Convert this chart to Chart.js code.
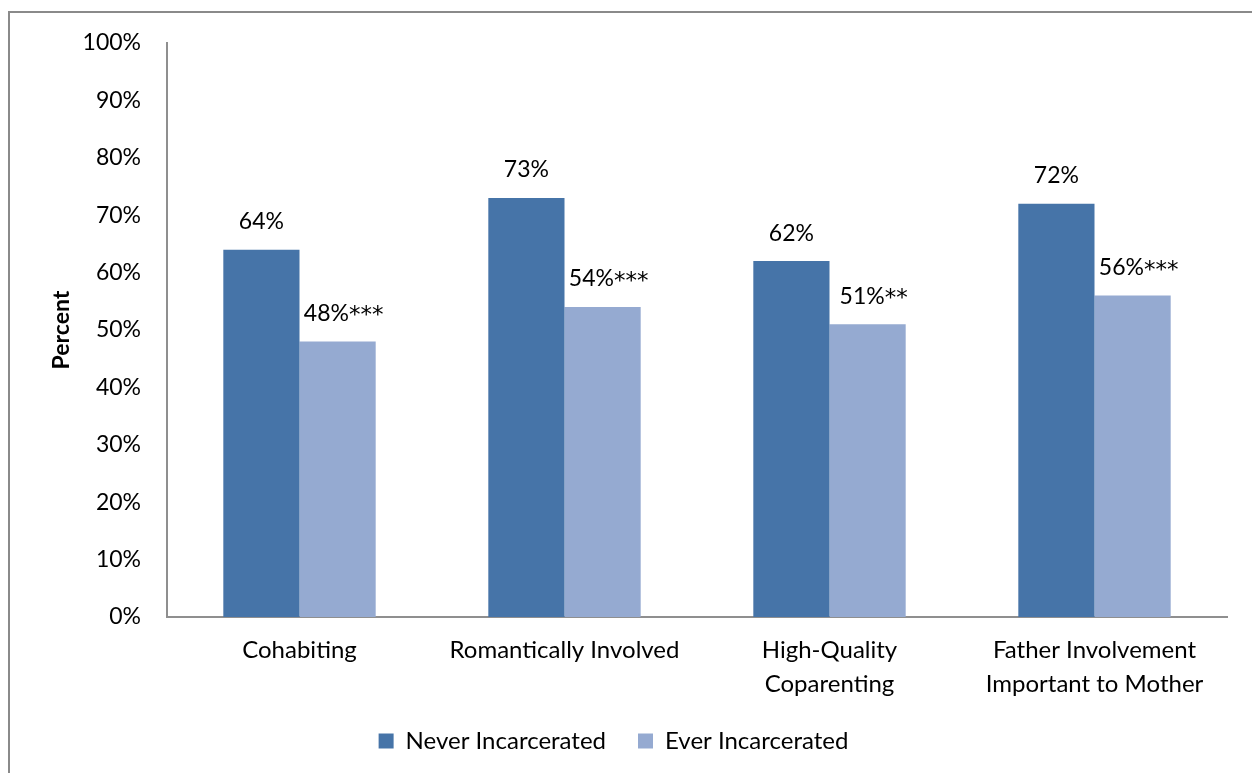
<!DOCTYPE html>
<html>
<head>
<meta charset="utf-8">
<script src="https://cdn.jsdelivr.net/npm/chart.js@4/dist/chart.umd.min.js"></script>
<style>
  body { margin: 0; background: #fff; }
  #wrap { width: 1252px; height: 773px; }
</style>
</head>
<body>
<div id="wrap"><canvas id="incarceration"></canvas></div>
<script>
var DARK_BLUE = "#4674A8";
var LIGHT_BLUE = "#95AAD1";
var AXIS_GREY = "#8f8f8f";
var FONT = "Lato, 'Open Sans', sans-serif";

let CATEGORIES = [
  "Cohabiting",
  "Romantically Involved",
  ["High-Quality", "Coparenting"],
  ["Father Involvement", "Important to Mother"]
];
let NEVER = [64, 73, 62, 72];
let EVER = [48, 54, 51, 56];
let NEVER_SIG = ["", "", "", ""];
let EVER_SIG = ["***", "***", "**", "***"];
let Y_TICKS = [0, 10, 20, 30, 40, 50, 60, 70, 80, 90, 100];

var chartData = {
  labels: CATEGORIES,
  datasets: [{
    label: "Never Incarcerated",
    data: NEVER,
    sig: NEVER_SIG,
    backgroundColor: DARK_BLUE
  }, {
    label: "Ever Incarcerated",
    data: EVER,
    sig: EVER_SIG,
    backgroundColor: LIGHT_BLUE
  }]
};

// frame round the whole chart, like the original picture
var framePlugin = {
  id: "frame",
  beforeDraw: function(chart) {
    var c = chart.ctx;
    c.save();
    c.fillStyle = "#fff";
    c.fillRect(0, 0, chart.width, chart.height);
    c.strokeStyle = "#8a8a8a";
    c.lineWidth = 2;
    c.strokeRect(9, 12, 1300, 800);
    c.restore();
  }
};

// value labels above each bar, stars drawn a bit larger like the original
var valueLabels = {
  id: "valueLabels",
  afterDatasetsDraw: function(chart) {
    var c = chart.ctx;
    c.save();
    c.fillStyle = "#000";
    c.textBaseline = "middle";
    chart.data.datasets.forEach(function(ds, i) {
      chart.getDatasetMeta(i).data.forEach(function(bar, j) {
        var num = ds.data[j] + "%";
        var stars = ds.sig[j];
        c.font = "23px " + FONT;
        var w1 = c.measureText(num).width;
        c.font = "23px 'DejaVu Sans'";
        var w2 = stars ? c.measureText(stars).width : 0;
        var x0 = bar.x - (w1 + w2) / 2 + (stars ? 6 : 0);
        var y = bar.y - 28;
        c.textAlign = "left";
        c.font = "23px " + FONT;
        c.fillText(num, x0, y);
        if (stars) {
          c.font = "23px 'DejaVu Sans'";
          c.fillText(stars, x0 + w1, y + 3);
        }
      });
    });
    c.restore();
  }
};

var ctx = document.getElementById("incarceration").getContext("2d");
var barChart = new Chart(ctx, {
  type: "bar",
  data: chartData,
  plugins: [framePlugin, valueLabels],
  options: {
    responsive: true,
    maintainAspectRatio: false,
    animation: false,
    layout: { padding: { top: 43, right: 25, left: 0, bottom: 10 } },
    datasets: {
      bar: { categoryPercentage: 0.575, barPercentage: 1.0 }
    },
    scales: {
      x: {
        grid: { display: false, drawTicks: false },
        border: { color: AXIS_GREY, width: 2 },
        ticks: {
          color: "#000",
          padding: 16,
          maxRotation: 0,
          autoSkip: false,
          font: { family: FONT, size: 24, lineHeight: 1.42 }
        },
        afterFit: function(scale) { scale.height = 80; }
      },
      y: {
        min: 0,
        max: 100,
        afterBuildTicks: function(scale) {
          scale.ticks = Y_TICKS.map(function(v) { return { value: v }; });
        },
        grid: { display: false, drawTicks: false },
        border: { color: AXIS_GREY, width: 2 },
        ticks: {
          color: "#000",
          padding: 26,
          font: { family: FONT, size: 23 },
          callback: function(v) { return v + "%"; }
        },
        title: {
          display: true,
          text: "Percent",
          color: "#000",
          padding: { top: 48, bottom: 0 },
          font: { family: FONT, size: 23, weight: "bold" }
        },
        afterFit: function(scale) { scale.width = 167; }
      }
    },
    plugins: {
      legend: {
        position: "bottom",
        labels: {
          color: "#000",
          boxWidth: 15,
          boxHeight: 15,
          padding: 32,
          font: { family: FONT, size: 24 }
        }
      },
      tooltip: { enabled: false }
    }
  }
});
</script>
</body>
</html>
